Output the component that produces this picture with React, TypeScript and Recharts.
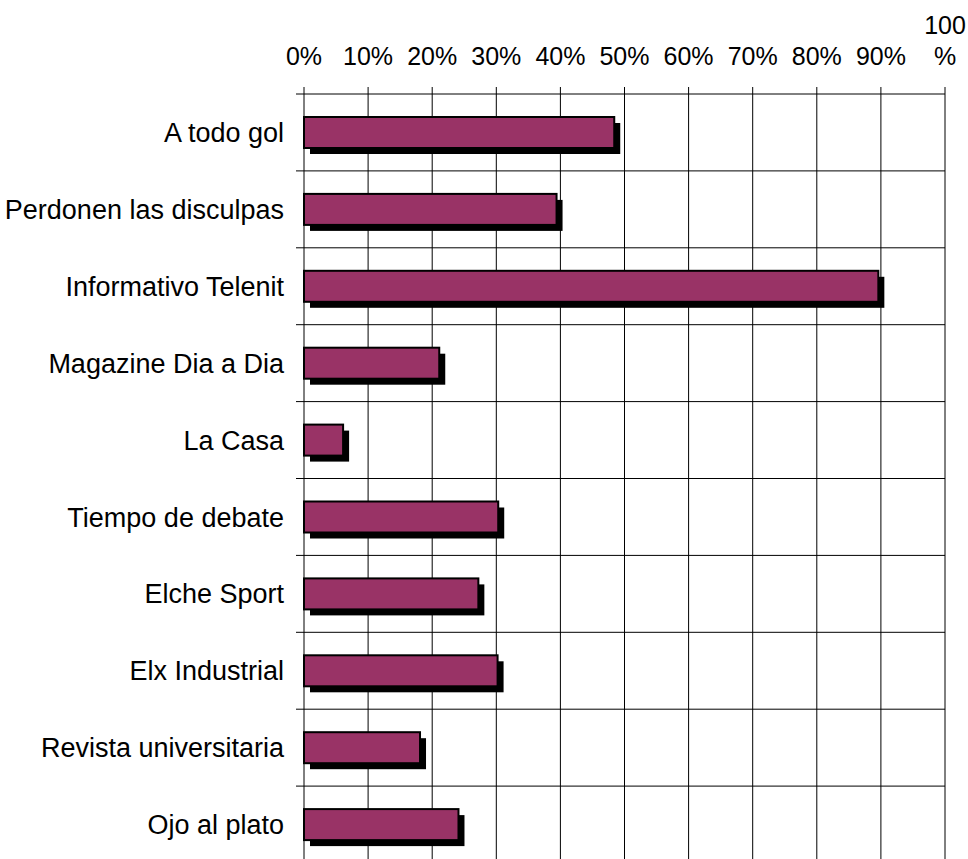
import React from 'react';
import { BarChart, Bar, XAxis, YAxis, CartesianGrid } from 'recharts';

// programas y porcentaje
const categories = [
  'A todo gol',
  'Perdonen las disculpas',
  'Informativo Telenit',
  'Magazine Dia a Dia',
  'La Casa',
  'Tiempo de debate',
  'Elche Sport',
  'Elx Industrial',
  'Revista universitaria',
  'Ojo al plato',
];
const values = [48.4, 39.4, 89.6, 21.1, 6.1, 30.3, 27.2, 30.2, 18.1, 24.1];

const tickValues = [0, 10, 20, 30, 40, 50, 60, 70, 80, 90, 100];
const tickLabels = ['0%', '10%', '20%', '30%', '40%', '50%', '60%', '70%', '80%', '90%', '100 %'];

const chartData = categories.map((name, i) => ({ name, value: values[i] }));

const FONT = '"Liberation Sans", Arial, Helvetica, sans-serif';

function TopTick(props: any) {
  const { x, y, payload } = props;
  const idx = tickValues.indexOf(payload.value);
  const label = idx >= 0 ? tickLabels[idx] : `${payload.value}%`;
  const lines = label.split(' ');
  const base = y - 21;
  return (
    <text x={x} y={base} textAnchor="middle" fill="#000" fontSize={25} fontFamily={FONT}>
      {lines.map((line, i) => (
        <tspan key={i} x={x} y={base - (lines.length - 1 - i) * 31}>
          {line}
        </tspan>
      ))}
    </text>
  );
}

function ShadowBar(props: any) {
  const { x, y, width, height } = props;
  if (!width || width <= 0) return null;
  return (
    <g>
      <rect x={x + 6} y={y + 6} width={width} height={height} fill="#000" />
      <rect x={x} y={y} width={width} height={height} fill="#993366" stroke="#000" strokeWidth={2} />
    </g>
  );
}

export default function App() {
  return (
    <div style={{ position: 'absolute', left: 0, top: 0, background: '#fff' }}>
      <BarChart
        width={968}
        height={863}
        data={chartData}
        layout="vertical"
        margin={{ top: 0, right: 23, bottom: 0, left: 0 }}
      >
        <CartesianGrid
          stroke="#000"
          horizontalCoordinatesGenerator={({ offset }: any) =>
            Array.from({ length: categories.length + 1 }, (_, i) => offset.top + (i * offset.height) / categories.length)
          }
          horizontal={(p: any) => (
            <line key={p.key} x1={p.x1 - 8} y1={p.y1} x2={p.x2} y2={p.y2} stroke="#000" strokeWidth={1} />
          )}
          vertical={(p: any) => (
            <line key={p.key} x1={p.x1} y1={p.y1 - 7} x2={p.x2} y2={p.y2} stroke="#000" strokeWidth={1} />
          )}
        />
        <XAxis
          type="number"
          orientation="top"
          domain={[0, 100]}
          ticks={tickValues}
          height={94}
          axisLine={false}
          tickLine={false}
          interval={0}
          tick={<TopTick />}
        />
        <YAxis
          type="category"
          dataKey="name"
          width={304}
          axisLine={false}
          tickLine={false}
          tickMargin={14}
          interval={0}
          tick={{ fill: '#000', fontSize: 27, fontFamily: FONT }}
        />
        <Bar dataKey="value" barSize={31} shape={<ShadowBar />} isAnimationActive={false} />
      </BarChart>
    </div>
  );
}
